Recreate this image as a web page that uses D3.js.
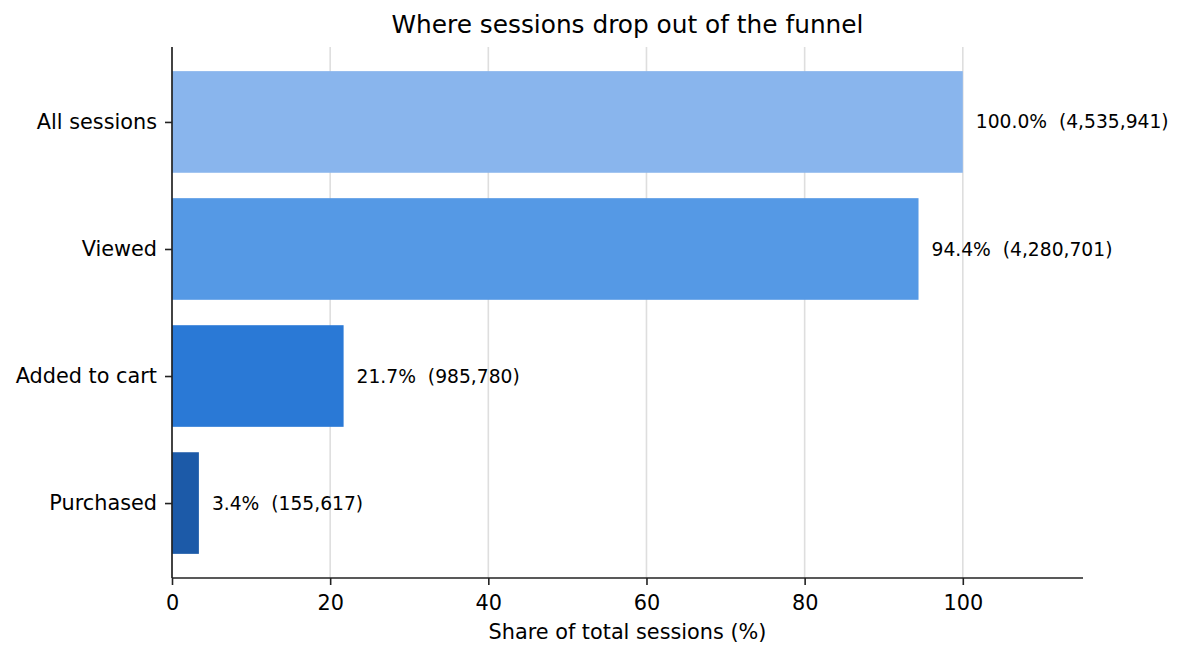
<!DOCTYPE html>
<html>
<head>
<meta charset="utf-8">
<script src="https://cdn.jsdelivr.net/npm/d3@7"></script>
<style>
  body { margin: 0; background: #fff; }
  text { font-family: "DejaVu Sans", sans-serif; }
</style>
</head>
<body>
<svg id="chart" width="1185" height="659"></svg>
<script>
// funnel stages, top to bottom
const stages = ["All sessions", "Viewed", "Added to cart", "Purchased"];
const sessions = [4535941, 4280701, 985780, 155617];
const share = [100.0, 94.4, 21.7, 3.4];
const colors = ["#89b5ed", "#5599e5", "#2a79d6", "#1c5aa8"];
const xTicks = [0, 20, 40, 60, 80, 100];

const width = 1185, height = 659;
const margin = {top: 47, right: 102, bottom: 81, left: 172};
const plotW = width - margin.left - margin.right;
const plotH = height - margin.top - margin.bottom;

const svg = d3.select("#chart");
const g = svg.append("g").attr("transform", `translate(${margin.left},${margin.top})`);

const x = d3.scaleLinear().domain([0, 115.2]).range([0, plotW]);
// matplotlib-like y: bars at 0..3, height 0.8, 5% margin
const y = d3.scaleLinear().domain([-0.59, 3.59]).range([0, plotH]);
const barH = 0.8;

// grid
g.append("g").selectAll("line")
  .data(xTicks.filter(d => d > 0))
  .join("line")
  .attr("x1", d => x(d)).attr("x2", d => x(d))
  .attr("y1", 0).attr("y2", plotH)
  .attr("stroke", "#dedede").attr("stroke-width", 1.6);

// bars
g.append("g").selectAll("rect")
  .data(stages)
  .join("rect")
  .attr("x", x(0))
  .attr("y", (d, i) => y(i - barH / 2))
  .attr("width", (d, i) => x(share[i]) - x(0))
  .attr("height", y(barH) - y(0))
  .attr("fill", (d, i) => colors[i]);

// value labels
const fmt = d3.format(",");
g.append("g").selectAll("text")
  .data(stages)
  .join("text")
  .attr("x", (d, i) => x(share[i]) + 13)
  .attr("y", (d, i) => y(i))
  .attr("dy", "0.35em")
  .attr("font-size", "18.7px")
  .attr("fill", "#000")
  .attr("xml:space", "preserve")
  .text((d, i) => `${share[i].toFixed(1)}%  (${fmt(sessions[i])})`);

// axes
const xAxis = d3.axisBottom(x).tickValues(xTicks).tickSize(7).tickPadding(10);
const gx = g.append("g").attr("transform", `translate(0,${plotH})`).call(xAxis);
gx.select(".domain").attr("d", `M0,0H${plotW}`).attr("stroke", "#222").attr("stroke-width", 1.7);
gx.selectAll(".tick line").attr("stroke", "#222").attr("stroke-width", 1.6);
gx.selectAll(".tick text").attr("font-size", "20.8px").attr("fill", "#000")
  .attr("font-family", "DejaVu Sans, sans-serif");

const yAxis = d3.axisLeft(y).tickValues(stages.map((d, i) => i))
  .tickFormat(i => stages[i]).tickSize(7).tickPadding(8);
const gy = g.append("g").call(yAxis);
gy.select(".domain").attr("d", `M0,0V${plotH}`).attr("stroke", "#222").attr("stroke-width", 1.7);
gy.selectAll(".tick line").attr("stroke", "#222").attr("stroke-width", 1.6);
gy.selectAll(".tick text").attr("font-size", "20.8px").attr("fill", "#000")
  .attr("font-family", "DejaVu Sans, sans-serif");

// title and axis label
svg.append("text")
  .attr("x", margin.left + plotW / 2).attr("y", 33)
  .attr("text-anchor", "middle").attr("font-size", "24.8px").attr("fill", "#000")
  .text("Where sessions drop out of the funnel");

svg.append("text")
  .attr("x", margin.left + plotW / 2).attr("y", 639)
  .attr("text-anchor", "middle").attr("font-size", "20.8px").attr("fill", "#000")
  .text("Share of total sessions (%)");
</script>
</body>
</html>
